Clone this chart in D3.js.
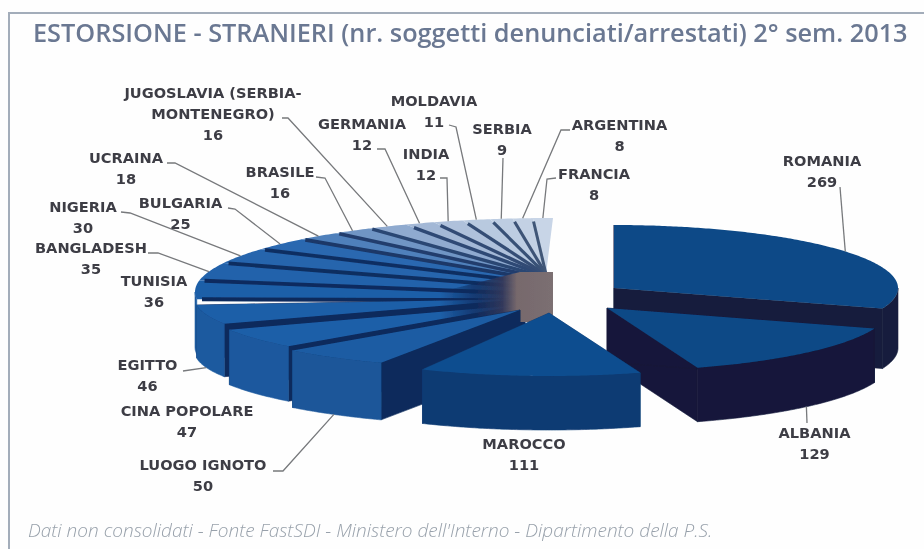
<!DOCTYPE html>
<html>
<head>
<meta charset="utf-8">
<script src="https://cdn.jsdelivr.net/npm/d3@7"></script>
<style>
html,body{margin:0;padding:0;background:#fff;}
svg{display:block;}
</style>
</head>
<body>
<svg id="chart" width="924" height="549"></svg>
<script>
// ---- data ----
const categories = ["ROMANIA","ALBANIA","MAROCCO","LUOGO IGNOTO","CINA POPOLARE","EGITTO","TUNISIA","BANGLADESH","NIGERIA","BULGARIA","UCRAINA","BRASILE","JUGOSLAVIA (SERBIA-\nMONTENEGRO)","GERMANIA","INDIA","MOLDAVIA","SERBIA","ARGENTINA","FRANCIA"];
const values = [269,129,111,50,47,46,36,35,30,25,18,16,16,12,12,11,9,8,8];
const titleText = "ESTORSIONE - STRANIERI (nr. soggetti denunciati/arrestati) 2° sem. 2013";
const footerText = "Dati non consolidati - Fonte FastSDI - Ministero dell'Interno - Dipartimento della P.S.";

// ---- layout (not data) ----
const labelCX = [822,814.5,524,203,187,147.5,154,91,83,180.5,126,280,213,362,426,434,502,619.5,594];
const labelBase = [166,438,449,470,416,370,286,253,212,208,163,177,98,129,159,106,134,130,179];
// elbow of each leader line: [start x, start y, elbow x, elbow y]; null = no leader
const leaderFrom = [[840,187,840,187],[807,423,807,423],null,[273,471,283,471],null,[183,371,183,371],null,
  [148,253,158,253],[121,212,130,213],[228,208,235,209],[167,163,175,163],[316,177,325,178],[282,118,288,118],
  [377,149,385,149],[440,178,447,178],[449,125,456,127],[503,158,503,158],[570,130,561,130],[556,178,547,179]];
// detached slices: ellipse centre and radii
const detachedCX = [614,607,549,520,521,525];
const detachedCY = [288,308,313,310,305,299];
const detachedRX = [284,283,285,313,320,330];
const detachedRY = [63,63,63,59,60,60];
const depths = [60,54,54,57,55,53,55];
const topColors = ["#0f4a87","#114986","#114e8f","#1d5ca3","#1e5fa8","#1e5fa8"];
const outerWall = ["#161d3d","#14183a","#0b3b73","#1c5699","#1c599e","#1c5a9f","#1c5a9f"];
const sideWall = ["#161d3d","#14183a","#0b3b73","#0c2c5c","#0d2a5c","#0d2a5c"];

const svg = d3.select("#chart");
const defs = svg.append("defs");
defs.append("filter").attr("id","soft").append("feGaussianBlur").attr("stdDeviation",0.55);
defs.append("filter").attr("id","softText").append("feGaussianBlur").attr("stdDeviation",0.35);
const hubGrad = defs.append("linearGradient").attr("id","hub");
[[0,"#0d2a5c",0],[0.3,"#0d2a5c",0.7],[0.55,"#33385a",0.95],[0.68,"#77696c",1],[1,"#7b6f72",1]].forEach(s=>
  hubGrad.append("stop").attr("offset",s[0]).attr("stop-color",s[1]).attr("stop-opacity",s[2]));

svg.append("rect").attr("width",924).attr("height",549).attr("fill","#fefefe");
// frame: top and left rule only
svg.append("path").attr("d","M924,13 H9 V549").attr("fill","none").attr("stroke","#a3adba").attr("stroke-width",2);

const arcs = d3.pie().sort(null).value(d=>d).startAngle(0).endAngle(2*Math.PI)(values);

// shared ellipse for the fan of small slices
const fan = {cx:553, cy:292, rx:358, ry:74};
const fanApexX = 546;
const geom = i => i < detachedCX.length
  ? {cx:detachedCX[i], cy:detachedCY[i], rx:detachedRX[i], ry:detachedRY[i]}
  : fan;
const scalesFor = g => ({
  x: d3.scaleLinear().domain([-1,1]).range([g.cx-g.rx, g.cx+g.rx]),
  y: d3.scaleLinear().domain([-1,1]).range([g.cy-g.ry, g.cy+g.ry])
});
const rim = (i,a) => { const s = scalesFor(geom(i)); return [s.x(Math.sin(a)), s.y(-Math.cos(a))]; };
const apex = (i,a) => i < detachedCX.length
  ? [detachedCX[i], detachedCY[i]]
  : [fanApexX, 298 - 24*Math.cos(a)];
const sweep = (a0,a1) => d3.range(a0,a1,0.01).concat([a1]);
const line = d3.line();
const down = (p,d) => [p[0],p[1]+d];

const fanIndex = d3.scaleLinear().domain([6,9,10,11,12,13,14,15,18]).clamp(true)
  .range(["#1e5fa8","#2a68b0","#4f80bb","#7095c4","#8faacf","#a3b8d6","#afc1db","#b8c9df","#c8d5e7"]);
const stripeColor = d3.scaleLinear().domain([6,9,12,18]).range(["#0d2a5c","#112f62","#2b4673","#3f5677"]);
const stripeWidth = d3.scaleLinear().domain([6,18]).range([4,3]);

const marks = svg.append("g").attr("filter","url(#soft)");

function drawSlice(i){
  const a0 = arcs[i].startAngle, a1 = arcs[i].endAngle, d = depths[i]||0;
  const arc = sweep(a0,a1).map(a=>rim(i,a));
  const g = marks.append("g").attr("class","slice");
  if(i < detachedCX.length){
    const c = apex(i,a0), s = rim(i,a0), e = rim(i,a1);
    g.append("path").attr("fill",sideWall[i]).attr("stroke",sideWall[i]).attr("stroke-width",0.6)
     .attr("d",line([c,e,down(e,d),down(c,d)])+"Z");
    g.append("path").attr("fill",sideWall[i]).attr("stroke",sideWall[i]).attr("stroke-width",0.6)
     .attr("d",line([c,s,down(s,d),down(c,d)])+"Z");
  }
  // the outer wall only shows on the near half of the rim
  const f0 = Math.max(a0,Math.PI/2), f1 = Math.min(a1,3*Math.PI/2);
  if(d>0 && f1>f0){
    const front = sweep(f0,f1).map(a=>rim(i,a));
    g.append("path").attr("fill",outerWall[i]).attr("stroke",outerWall[i]).attr("stroke-width",0.6)
     .attr("d",line(front.concat(front.map(p=>down(p,d)).reverse()))+"Z");
  }
  const top = i < detachedCX.length
    ? arc.concat([apex(i,a0)])
    : arc.concat([apex(i,a1),apex(i,a0)]);
  g.append("path").attr("fill", i<detachedCX.length ? topColors[i] : fanIndex(i)).attr("d",line(top)+"Z");
}

// back to front: fan first, then the detached slices
d3.range(values.length-1,5,-1).forEach(drawSlice);
d3.range(6,values.length).forEach(i=>{
  const a = arcs[i].startAngle;
  const from = rim(i,a), to = apex(i,a);
  // the dark gaps stop just short of the rim
  const start = d3.interpolate(from,to)(i >= 13 ? 0.06 : 0.015);
  marks.append("path").attr("fill","none").attr("stroke",stripeColor(i)).attr("stroke-width",stripeWidth(i))
    .attr("d",line([start,to]));
});
drawSlice(5); drawSlice(4);
// dark/grey hub where the fan converges
marks.append("path").attr("fill","url(#hub)")
  .attr("d",line([[fan.cx-113,292],[fan.cx-33,272],[fan.cx,272],[fan.cx,315],[fan.cx-23,322],[fan.cx-113,322]])+"Z");
drawSlice(3); drawSlice(0); drawSlice(1); drawSlice(2);

// leader lines end on the rim of their slice
const leaders = svg.append("g").attr("filter","url(#softText)").attr("fill","none").attr("stroke","#77797c").attr("stroke-width",1.3);
leaderFrom.forEach((l,i)=>{
  if(!l) return;
  const mid = (arcs[i].startAngle+arcs[i].endAngle)/2;
  let p = rim(i,mid);
  if(Math.cos(mid)<0) p = down(p,depths[i]||0);
  leaders.append("path").attr("d",line([[l[0],l[1]],[l[2],l[3]],p]));
});

// labels
const lab = svg.append("g").attr("filter","url(#softText)")
  .attr("font-family","'DejaVu Sans',sans-serif").attr("font-weight",700).attr("font-size",14.6)
  .attr("fill","#3d3d45").attr("text-anchor","middle");
categories.forEach((c,i)=>{
  const lines = c.split("\n").concat([String(values[i])]);
  lines.forEach((t,k)=>{
    const y = labelBase[i] + (lines.length===3 ? k*21 : k*20.5);
    lab.append("text").attr("x",labelCX[i]).attr("y",y).text(t);
  });
});

// title and footer
svg.append("text").attr("x",33).attr("y",42).attr("font-family","'Open Sans',sans-serif").attr("font-weight",600)
  .attr("font-size",25.3).attr("fill","#6b7892").attr("filter","url(#softText)").text(titleText);
svg.append("text").attr("x",28).attr("y",537).attr("font-family","'Open Sans',sans-serif").attr("font-weight",300)
  .attr("font-style","italic").attr("font-size",19).attr("fill","#98a1ab").attr("filter","url(#softText)").text(footerText);
</script>
</body>
</html>
